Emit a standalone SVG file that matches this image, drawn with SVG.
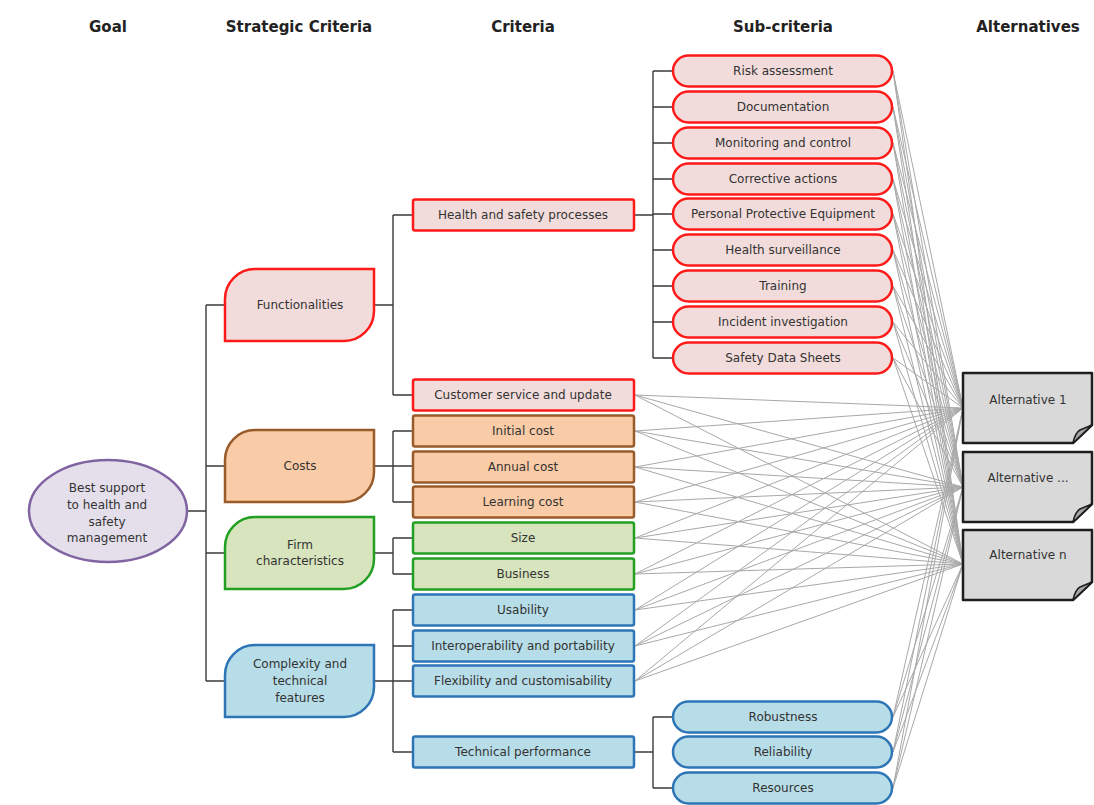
<svg xmlns="http://www.w3.org/2000/svg" xmlns:xlink="http://www.w3.org/1999/xlink" width="1094" height="805" viewBox="0 0 1094 805">
  <style>
    .hdr { font-family: "DejaVu Sans", "Liberation Sans", sans-serif; font-weight: bold; font-size: 15px; fill: #222; text-anchor: middle; }
    .t { font-family: "DejaVu Sans", "Liberation Sans", sans-serif; font-size: 12px; fill: #333; text-anchor: middle; dominant-baseline: central; }
    .tree { fill: none; stroke: #3a3a3a; stroke-width: 1.4; }
    .web { fill: none; stroke: #a8a8a8; stroke-width: 1; }
    .red { fill: #f2dcdb; stroke: #ff1a1a; stroke-width: 2.5; }
    .brown { fill: #f9cba6; stroke: #9a5b2a; stroke-width: 2.5; }
    .green { fill: #d7e4bd; stroke: #22a022; stroke-width: 2.5; }
    .blue { fill: #b7dde8; stroke: #2e75b6; stroke-width: 2.5; }
    .goal { fill: #e5dfec; stroke: #8064a2; stroke-width: 2.5; }
    .alt { fill: #d9d9d9; stroke: #1e1e1e; stroke-width: 2.5; stroke-linejoin: round; }
    .fold { fill: #a6a6a6; stroke: #1e1e1e; stroke-width: 1.5; stroke-linejoin: round; }
  </style>
  <defs>
    <!-- strategic criterion shape: rounded top-left and bottom-right corners -->
    <path id="strat" d="M0,72 V30 A30,30 0 0 1 30,0 H149 V42 A30,30 0 0 1 119,72 Z"/>
    <!-- alternative: note with curled corner -->
    <path id="note" d="M0,0 H129 V52 L110,70 H0 Z"/>
    <path id="curl" d="M110,70 Q112,60 117,57 Q122,55 129,52 Z"/>
  </defs>

  <rect width="1094" height="805" fill="#ffffff"/>

  <!-- column headers -->
  <g id="headers">
    <text class="hdr" x="108" y="32">Goal</text>
    <text class="hdr" x="299" y="32">Strategic Criteria</text>
    <text class="hdr" x="523" y="32">Criteria</text>
    <text class="hdr" x="783" y="32">Sub-criteria</text>
    <text class="hdr" x="1028" y="32">Alternatives</text>
  </g>

  <g id="connectors">
    <!-- criteria and sub-criteria to every alternative -->
    <path class="web" d="
      M893 71L963 408M893 71L963 487M893 71L963 564
      M893 107L963 408M893 107L963 487M893 107L963 564
      M893 143L963 408M893 143L963 487M893 143L963 564
      M893 179L963 408M893 179L963 487M893 179L963 564
      M893 214L963 408M893 214L963 487M893 214L963 564
      M893 250L963 408M893 250L963 487M893 250L963 564
      M893 286L963 408M893 286L963 487M893 286L963 564
      M893 322L963 408M893 322L963 487M893 322L963 564
      M893 358L963 408M893 358L963 487M893 358L963 564
      M893 717L963 408M893 717L963 487M893 717L963 564
      M893 752L963 408M893 752L963 487M893 752L963 564
      M893 788L963 408M893 788L963 487M893 788L963 564
      M635 395L963 408M635 395L963 487M635 395L963 564
      M635 431L963 408M635 431L963 487M635 431L963 564
      M635 467L963 408M635 467L963 487M635 467L963 564
      M635 502L963 408M635 502L963 487M635 502L963 564
      M635 538L963 408M635 538L963 487M635 538L963 564
      M635 574L963 408M635 574L963 487M635 574L963 564
      M635 610L963 408M635 610L963 487M635 610L963 564
      M635 646L963 408M635 646L963 487M635 646L963 564
      M635 681L963 408M635 681L963 487M635 681L963 564"/>
    <!-- goal to strategic criteria -->
    <path class="tree" d="M187 511H206M206 305V681M206 305H225M206 466H225M206 553H225M206 681H225"/>
    <!-- strategic criteria to criteria -->
    <path class="tree" d="M374 305H393M393 215V395M393 215H413M393 395H413"/>
    <path class="tree" d="M374 466H413M393 431V502M393 431H413M393 502H413"/>
    <path class="tree" d="M374 553H393M393 538V574M393 538H413M393 574H413"/>
    <path class="tree" d="M374 681H413M393 610V752M393 610H413M393 646H413M393 752H413"/>
    <!-- criteria to sub-criteria -->
    <path class="tree" d="M634 215H653M653 71V358M653 71H672M653 107H672M653 143H672M653 179H672M653 214H672M653 250H672M653 286H672M653 322H672M653 358H672"/>
    <path class="tree" d="M634 752H653M653 717V788M653 717H672M653 788H672"/>
  </g>

  <!-- goal -->
  <g id="goal">
    <ellipse class="goal" cx="108" cy="511" rx="79" ry="51"/>
    <text class="t"><tspan x="107" y="488">Best support</tspan><tspan x="107" y="505">to health and</tspan><tspan x="107" y="522">safety</tspan><tspan x="107" y="538">management</tspan></text>
  </g>

  <!-- strategic criteria -->
  <g id="functionalities">
    <use xlink:href="#strat" href="#strat" class="red" x="225" y="269"/>
    <text class="t" x="300" y="305">Functionalities</text>
  </g>
  <g id="costs">
    <use xlink:href="#strat" href="#strat" class="brown" x="225" y="430"/>
    <text class="t" x="300" y="466">Costs</text>
  </g>
  <g id="firm-characteristics">
    <use xlink:href="#strat" href="#strat" class="green" x="225" y="517"/>
    <text class="t"><tspan x="300" y="545">Firm</tspan><tspan x="300" y="561">characteristics</tspan></text>
  </g>
  <g id="complexity">
    <use xlink:href="#strat" href="#strat" class="blue" x="225" y="645"/>
    <text class="t"><tspan x="300" y="664">Complexity and</tspan><tspan x="300" y="681">technical</tspan><tspan x="300" y="698">features</tspan></text>
  </g>

  <!-- criteria -->
  <g id="health-safety-processes">
    <rect class="red" x="413" y="199.5" width="221" height="31" rx="2"/>
    <text class="t" x="523" y="215">Health and safety processes</text>
  </g>
  <g id="customer-service">
    <rect class="red" x="413" y="379.5" width="221" height="31" rx="2"/>
    <text class="t" x="523" y="395">Customer service and update</text>
  </g>
  <g id="initial-cost">
    <rect class="brown" x="413" y="415.5" width="221" height="31" rx="2"/>
    <text class="t" x="523" y="431">Initial cost</text>
  </g>
  <g id="annual-cost">
    <rect class="brown" x="413" y="451.5" width="221" height="31" rx="2"/>
    <text class="t" x="523" y="467">Annual cost</text>
  </g>
  <g id="learning-cost">
    <rect class="brown" x="413" y="486.5" width="221" height="31" rx="2"/>
    <text class="t" x="523" y="502">Learning cost</text>
  </g>
  <g id="size">
    <rect class="green" x="413" y="522.5" width="221" height="31" rx="2"/>
    <text class="t" x="523" y="538">Size</text>
  </g>
  <g id="business">
    <rect class="green" x="413" y="558.5" width="221" height="31" rx="2"/>
    <text class="t" x="523" y="574">Business</text>
  </g>
  <g id="usability">
    <rect class="blue" x="413" y="594.5" width="221" height="31" rx="2"/>
    <text class="t" x="523" y="610">Usability</text>
  </g>
  <g id="interoperability">
    <rect class="blue" x="413" y="630.5" width="221" height="31" rx="2"/>
    <text class="t" x="523" y="646">Interoperability and portability</text>
  </g>
  <g id="flexibility">
    <rect class="blue" x="413" y="665.5" width="221" height="31" rx="2"/>
    <text class="t" x="523" y="681">Flexibility and customisability</text>
  </g>
  <g id="technical-performance">
    <rect class="blue" x="413" y="736.5" width="221" height="31" rx="2"/>
    <text class="t" x="523" y="752">Technical performance</text>
  </g>

  <!-- sub-criteria -->
  <g id="risk-assessment">
    <rect class="red" x="673" y="55.5" width="219" height="31" rx="15.5"/>
    <text class="t" x="783" y="71">Risk assessment</text>
  </g>
  <g id="documentation">
    <rect class="red" x="673" y="91.5" width="219" height="31" rx="15.5"/>
    <text class="t" x="783" y="107">Documentation</text>
  </g>
  <g id="monitoring">
    <rect class="red" x="673" y="127.5" width="219" height="31" rx="15.5"/>
    <text class="t" x="783" y="143">Monitoring and control</text>
  </g>
  <g id="corrective-actions">
    <rect class="red" x="673" y="163.5" width="219" height="31" rx="15.5"/>
    <text class="t" x="783" y="179">Corrective actions</text>
  </g>
  <g id="ppe">
    <rect class="red" x="673" y="198.5" width="219" height="31" rx="15.5"/>
    <text class="t" x="783" y="214">Personal Protective Equipment</text>
  </g>
  <g id="health-surveillance">
    <rect class="red" x="673" y="234.5" width="219" height="31" rx="15.5"/>
    <text class="t" x="783" y="250">Health surveillance</text>
  </g>
  <g id="training">
    <rect class="red" x="673" y="270.5" width="219" height="31" rx="15.5"/>
    <text class="t" x="783" y="286">Training</text>
  </g>
  <g id="incident-investigation">
    <rect class="red" x="673" y="306.5" width="219" height="31" rx="15.5"/>
    <text class="t" x="783" y="322">Incident investigation</text>
  </g>
  <g id="safety-data-sheets">
    <rect class="red" x="673" y="342.5" width="219" height="31" rx="15.5"/>
    <text class="t" x="783" y="358">Safety Data Sheets</text>
  </g>
  <g id="robustness">
    <rect class="blue" x="673" y="701.5" width="219" height="31" rx="15.5"/>
    <text class="t" x="783" y="717">Robustness</text>
  </g>
  <g id="reliability">
    <rect class="blue" x="673" y="736.5" width="219" height="31" rx="15.5"/>
    <text class="t" x="783" y="752">Reliability</text>
  </g>
  <g id="resources">
    <rect class="blue" x="673" y="772.5" width="219" height="31" rx="15.5"/>
    <text class="t" x="783" y="788">Resources</text>
  </g>

  <!-- alternatives -->
  <g id="alternative-1">
    <use xlink:href="#note" href="#note" class="alt" x="963" y="373"/>
    <use xlink:href="#curl" href="#curl" class="fold" x="963" y="373"/>
    <text class="t" x="1028" y="400">Alternative 1</text>
  </g>
  <g id="alternative-dots">
    <use xlink:href="#note" href="#note" class="alt" x="963" y="452"/>
    <use xlink:href="#curl" href="#curl" class="fold" x="963" y="452"/>
    <text class="t" x="1028" y="478">Alternative ...</text>
  </g>
  <g id="alternative-n">
    <use xlink:href="#note" href="#note" class="alt" x="963" y="530"/>
    <use xlink:href="#curl" href="#curl" class="fold" x="963" y="530"/>
    <text class="t" x="1028" y="555">Alternative n</text>
  </g>
</svg>
